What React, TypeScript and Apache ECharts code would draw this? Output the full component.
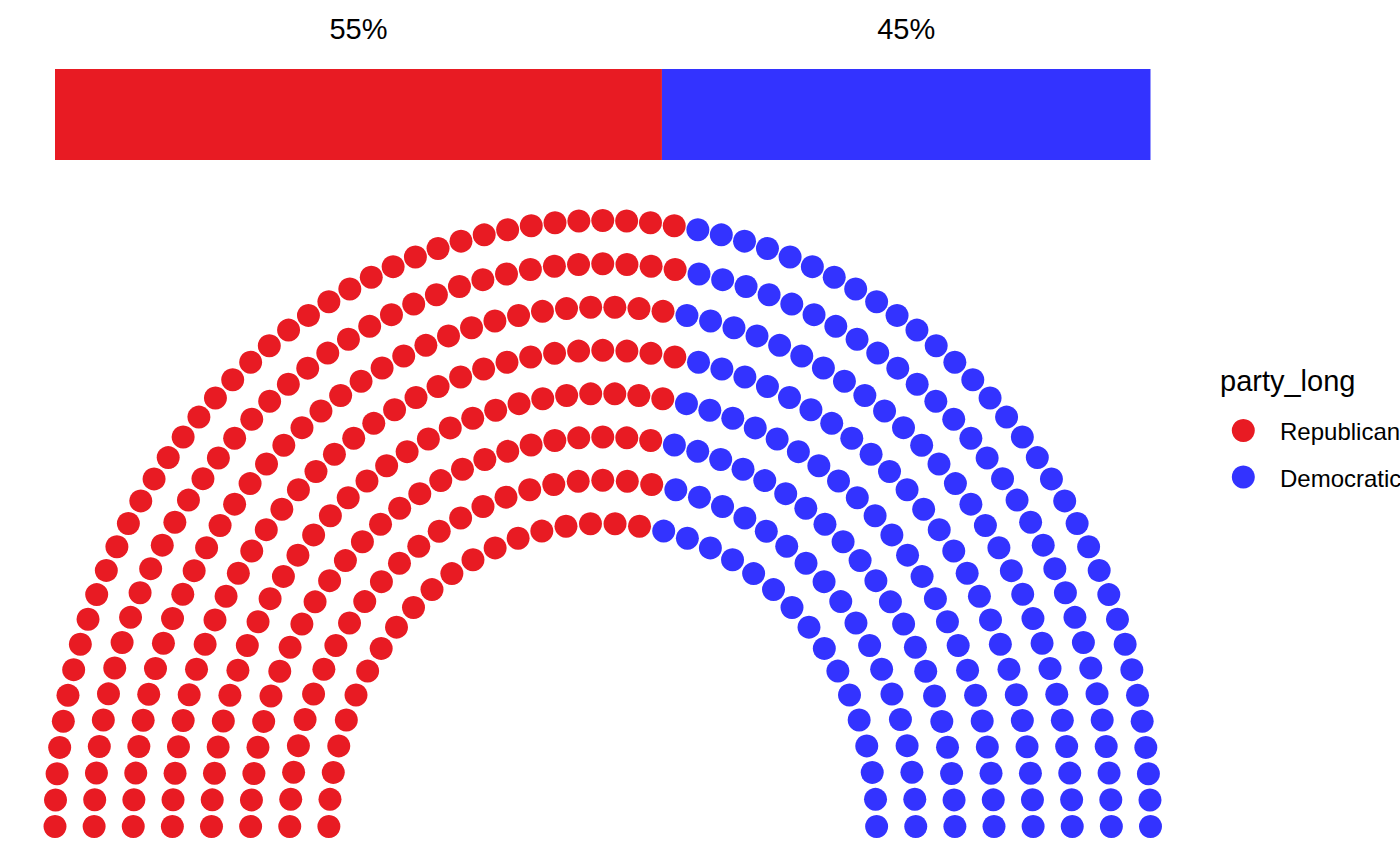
import React, { useEffect, useRef } from "react";
import * as echarts from "echarts";

const parties = ["Republican", "Democratic"];
const partySeats = [241, 194];
const partyColors = ["#E81B23", "#3333FF"];
const parlRows = 8;
const legendTitle = "party_long";

const FONT = "'Liberation Sans', Arial, Helvetica, sans-serif";

type Seat = { x: number; y: number; row: number; theta: number };

// ggparliament-style semicircle layout
function semicircle(rows: number, total: number): Seat[] {
  const radii = Array.from({ length: rows }, (_, i) => 1 + i / (rows - 1));
  const pts: Seat[] = [];
  let remaining = total;
  for (let i = 0; i < rows; i++) {
    const sumR = radii.slice(i).reduce((a, b) => a + b, 0);
    const n = Math.round((remaining * radii[i]) / sumR);
    remaining -= n;
    const by = Math.PI / (n - 1);
    for (let k = 0; k < n; k++) {
      const th = k * by;
      pts.push({ x: radii[i] * Math.cos(th), y: radii[i] * Math.sin(th), row: i, theta: th });
    }
  }
  pts.sort((a, b) => b.theta - a.theta || b.row - a.row);
  return pts;
}

export default function App() {
  const ref = useRef<HTMLDivElement>(null);
  useEffect(() => {
    if (!ref.current) return;
    const chart = echarts.init(ref.current, null, { renderer: "svg" });
    const total = partySeats.reduce((a, b) => a + b, 0);
    const seats = semicircle(parlRows, total);
    const seriesData: number[][][] = parties.map(() => []);
    let idx = 0;
    partySeats.forEach((n, p) => {
      for (let j = 0; j < n; j++) {
        const s = seats[idx++];
        seriesData[p].push([s.x, s.y]);
      }
    });
    // bar segments
    const barData: (number | string)[][] = [];
    let cum = 0;
    partySeats.forEach((n, p) => {
      const x0 = -2 + (4 * cum) / total;
      cum += n;
      const x1 = -2 + (4 * cum) / total;
      barData.push([x0, x1, p, Math.round((n / total) * 100) + "%"]);
    });
    const barBottom = 2.2;
    const barTop = 2.5;
    const labelY = 2.6;

    const legendX = 1243.3;
    const legendY0 = 430.5;
    const legendStep = 46.5;

    const legendGraphics: any[] = [
      {
        type: "text",
        left: 1220,
        top: 366,
        style: { text: legendTitle, font: `29px ${FONT}`, fill: "#000" },
      },
    ];
    parties.forEach((name, p) => {
      const cy = legendY0 + p * legendStep;
      legendGraphics.push({
        type: "circle",
        shape: { cx: legendX, cy, r: 11.5 },
        style: { fill: partyColors[p] },
      });
      legendGraphics.push({
        type: "text",
        x: 1280,
        y: cy + 1,
        style: {
          text: name,
          font: `24px ${FONT}`,
          fill: "#000",
          align: "left",
          verticalAlign: "middle",
        },
      });
    });

    chart.setOption({
      animation: false,
      backgroundColor: "#ffffff",
      grid: { left: 55, width: 1095.5, top: 38.7, height: 787.8, containLabel: false },
      xAxis: { type: "value", min: -2, max: 2, show: false },
      yAxis: { type: "value", min: 0, max: 2.6, show: false },
      legend: { show: false, data: parties },
      graphic: legendGraphics,
      series: [
        ...parties.map((name, p) => ({
          type: "scatter",
          name,
          data: seriesData[p],
          symbol: "circle",
          symbolSize: 23,
          itemStyle: { color: partyColors[p], opacity: 1 },
          emphasis: { disabled: true },
        })),
        {
          type: "custom",
          name: "bar",
          data: barData,
          encode: { x: [0, 1] },
          renderItem: (params: any, api: any) => {
            const x0 = api.value(0);
            const x1 = api.value(1);
            const p = api.value(2);
            const label = barData[params.dataIndex][3] as string;
            const a = api.coord([x0, barTop]);
            const b = api.coord([x1, barBottom]);
            const ly = api.coord([0, labelY])[1];
            return {
              type: "group",
              children: [
                {
                  type: "rect",
                  shape: { x: a[0], y: a[1], width: b[0] - a[0], height: b[1] - a[1] },
                  style: { fill: partyColors[p] },
                },
                {
                  type: "text",
                  style: {
                    text: label,
                    x: (a[0] + b[0]) / 2,
                    y: ly - 0.3465 * 29,
                    align: "center",
                    verticalAlign: "middle",
                    font: `29px ${FONT}`,
                    fill: "#000",
                  },
                },
              ],
            };
          },
        },
      ],
    });
    return () => chart.dispose();
  }, []);
  return (
    <div
      ref={ref}
      style={{ position: "absolute", left: 0, top: 0, width: 1400, height: 866, background: "#fff" }}
    />
  );
}
